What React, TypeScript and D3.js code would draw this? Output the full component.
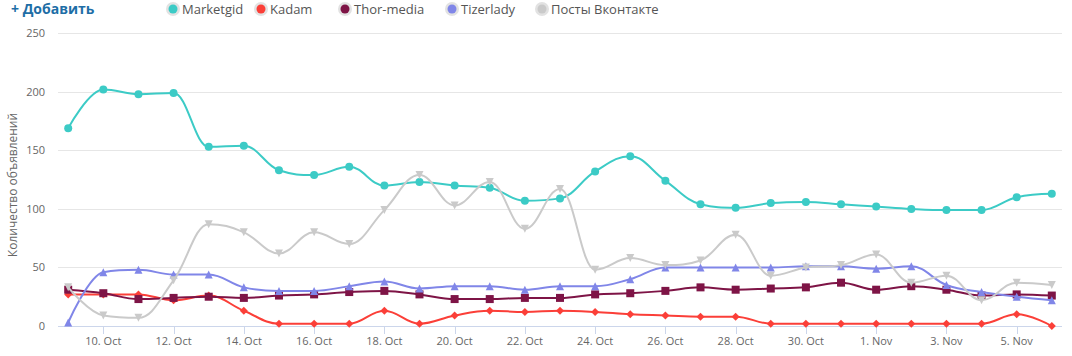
import React from "react";
import * as d3 from "d3";

const W = 1072;
const H = 356;

const startDate = new Date(Date.UTC(2016, 9, 9));
const endDate = new Date(Date.UTC(2016, 10, 6));
const dates = d3.utcDay.range(startDate, d3.utcDay.offset(endDate, 1));
const tickDates = d3.utcDay.range(new Date(Date.UTC(2016, 9, 10)), d3.utcDay.offset(endDate, 1), 2);
const yTicks = [0, 50, 100, 150, 200, 250];

const marketgid = [169, 202, 198, 199, 153, 154, 133, 129, 136, 120, 123, 120, 118, 107, 109, 132, 145, 124, 104, 101, 105, 106, 104, 102, 100, 99, 99, 110, 113];
const kadam = [27, 27, 27, 22, 26, 13, 2, 2, 2, 13, 2, 9, 13, 12, 13, 12, 10, 9, 8, 8, 2, 2, 2, 2, 2, 2, 2, 10, 0];
const thorMedia = [31, 28, 23, 24, 25, 24, 26, 27, 29, 30, 27, 23, 23, 24, 24, 27, 28, 30, 33, 31, 32, 33, 37, 31, 34, 31, 26, 27, 26];
const tizerlady = [3, 46, 48, 44, 44, 33, 30, 30, 34, 38, 32, 34, 34, 31, 34, 34, 40, 50, 50, 50, 50, 51, 51, 49, 51, 35, 29, 25, 22];
const vk = [33, 9, 7, 39, 87, 80, 62, 80, 70, 99, 129, 103, 123, 83, 117, 48, 58, 52, 56, 78, 43, 50, 52, 61, 37, 43, 22, 37, 35];

const seriesNames = ["Marketgid", "Kadam", "Thor-media", "Tizerlady", "Посты Вконтакте"];
const seriesColors = ["#3ccbc6", "#fb3f38", "#7e1446", "#8086e8", "#cacaca"];
const seriesSymbols = ["circle", "diamond", "square", "triangle", "triangle-down"];
const seriesData = [marketgid, kadam, thorMedia, tizerlady, vk];

const legendX = [173, 261, 345, 452, 542];

const FONT = "'Open Sans', 'DejaVu Sans', sans-serif";

const x = d3.scaleUtc().domain([startDate, endDate]).range([68.2, 1051.8]);
const y = d3.scaleLinear().domain([0, 250]).range([326, 33.3]);
const plotLeft = 58;
const plotRight = 1062;

function splinePath(pts: [number, number][]): string {
  const smoothing = 1.5;
  const denom = smoothing + 1;
  const rc: ([number, number] | null)[] = pts.map(() => null);
  let d = "";
  for (let i = 0; i < pts.length; i++) {
    const [px, py] = pts[i];
    if (i === 0) {
      d += `M${px},${py}`;
      continue;
    }
    let lcx = px;
    let lcy = py;
    if (i < pts.length - 1) {
      const [lx, ly] = pts[i - 1];
      const [nx, ny] = pts[i + 1];
      lcx = (smoothing * px + lx) / denom;
      lcy = (smoothing * py + ly) / denom;
      const rcx = (smoothing * px + nx) / denom;
      let rcy = (smoothing * py + ny) / denom;
      let correction = 0;
      if (rcx !== lcx) {
        correction = ((rcy - lcy) * (rcx - px)) / (rcx - lcx) + py - rcy;
      }
      lcy += correction;
      rcy += correction;
      if (lcy > ly && lcy > py) {
        lcy = Math.max(ly, py);
        rcy = 2 * py - lcy;
      } else if (lcy < ly && lcy < py) {
        lcy = Math.min(ly, py);
        rcy = 2 * py - lcy;
      }
      if (rcy > ny && rcy > py) {
        rcy = Math.max(ny, py);
        lcy = 2 * py - rcy;
      } else if (rcy < ny && rcy < py) {
        rcy = Math.min(ny, py);
        lcy = 2 * py - rcy;
      }
      rc[i] = [rcx, rcy];
    }
    const prev = rc[i - 1] || pts[i - 1];
    d += `C${prev[0]},${prev[1]} ${lcx},${lcy} ${px},${py}`;
  }
  return d;
}

function Marker({ type, cx, cy, color }: { type: string; cx: number; cy: number; color: string }) {
  const r = 4;
  if (type === "circle") return <circle cx={cx} cy={cy} r={r} fill={color} />;
  if (type === "square") return <rect x={cx - r} y={cy - r} width={2 * r} height={2 * r} fill={color} />;
  if (type === "diamond")
    return <path d={`M${cx},${cy - r} L${cx + r},${cy} L${cx},${cy + r} L${cx - r},${cy} Z`} fill={color} />;
  if (type === "triangle")
    return <path d={`M${cx},${cy - r} L${cx + r},${cy + r} L${cx - r},${cy + r} Z`} fill={color} />;
  return <path d={`M${cx - r},${cy - r} L${cx + r},${cy - r} L${cx},${cy + r} Z`} fill={color} />;
}

export default function App() {
  const fmt = d3.utcFormat("%-d. %b");
  return (
    <svg width={W} height={H} style={{ position: "absolute", left: 0, top: 0, fontFamily: FONT }}>
      <rect width={W} height={H} fill="#fff" />
      {yTicks.map((t) => (
        <line key={t} x1={plotLeft} x2={plotRight} y1={Math.round(y(t)) + 0.5} y2={Math.round(y(t)) + 0.5} stroke="#e6e6e6" strokeWidth={1} />
      ))}
      <line x1={plotLeft} x2={plotRight} y1={326.5} y2={326.5} stroke="#ccd6eb" strokeWidth={1} />
      {tickDates.map((t, i) => (
        <g key={i}>
          <line x1={Math.round(x(t)) + 0.5} x2={Math.round(x(t)) + 0.5} y1={326} y2={334} stroke="#ccd6eb" />
          <text x={x(t)} y={345} textAnchor="middle" fontSize={11} fill="#666">
            {fmt(t)}
          </text>
        </g>
      ))}
      {yTicks.map((t) => (
        <text key={t} x={45} y={y(t) + 4} textAnchor="end" fontSize={11} fill="#666">
          {t}
        </text>
      ))}
      <text transform="translate(17,185) rotate(-90)" textAnchor="middle" fontSize={12} fill="#666">
        Количество объявлений
      </text>
      {seriesData.map((vals, si) => {
        const pts: [number, number][] = vals.map((v, i) => [x(dates[i]), y(v)]);
        return (
          <g key={si}>
            <path d={splinePath(pts)} fill="none" stroke={seriesColors[si]} strokeWidth={2} strokeLinejoin="round" strokeLinecap="round" />
            {pts.map((p, i) => (
              <Marker key={i} type={seriesSymbols[si]} cx={p[0]} cy={p[1]} color={seriesColors[si]} />
            ))}
          </g>
        );
      })}
      <text x={11} y={14} fontSize={14} fontWeight="bold" fill="#1e6ea6">
        + Добавить
      </text>
      {seriesNames.map((n, i) => (
        <g key={n}>
          <circle cx={legendX[i]} cy={9} r={7} fill="#e2e2e2" />
          <circle cx={legendX[i]} cy={9} r={4.5} fill={seriesColors[i]} />
          <text x={legendX[i] + 9} y={14} fontSize={13} fill="#555">
            {n}
          </text>
        </g>
      ))}
    </svg>
  );
}
